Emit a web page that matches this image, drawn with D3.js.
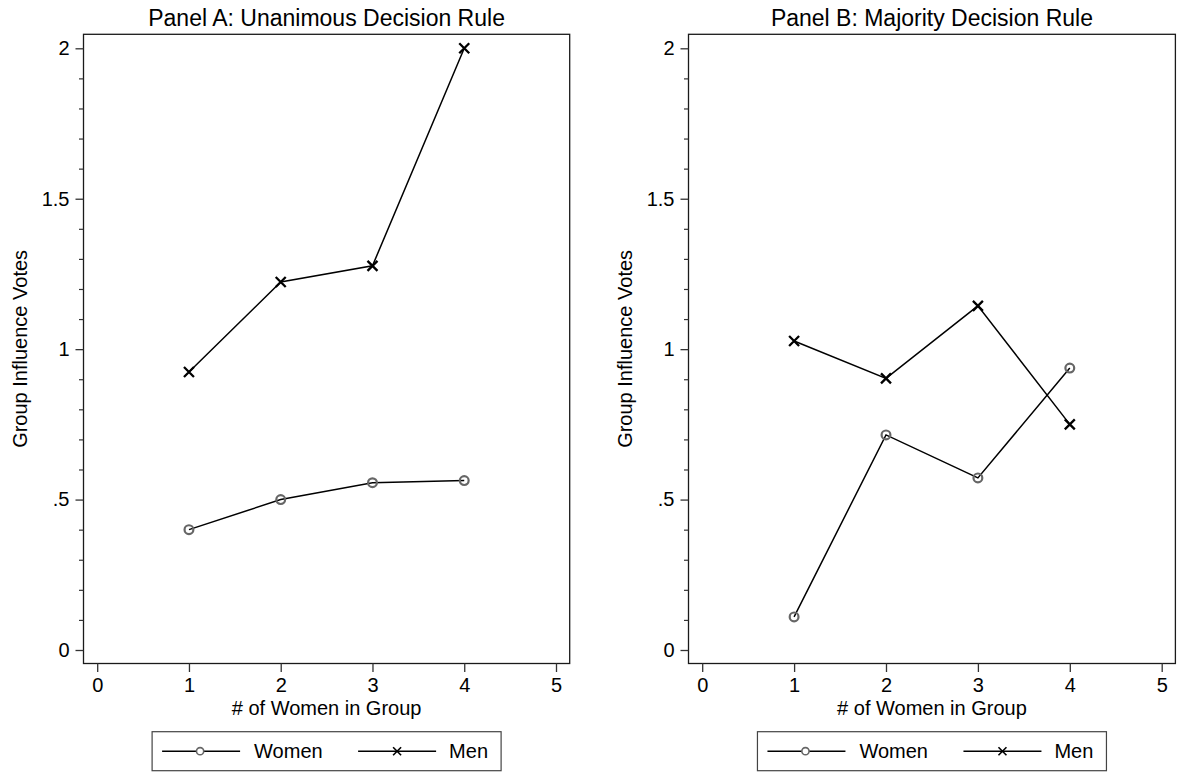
<!DOCTYPE html>
<html>
<head>
<meta charset="utf-8">
<script src="https://cdn.jsdelivr.net/npm/d3@7"></script>
<style>
  html, body { margin: 0; padding: 0; background: #fff; }
  svg { display: block; }
  text { font-family: "Liberation Sans", Arial, Helvetica, sans-serif; fill: #000; }
</style>
</head>
<body>
<svg id="chart" width="1177" height="774"></svg>
<script>
// ---- data ----
const categories = [1, 2, 3, 4];
const panelTitles = ["Panel A: Unanimous Decision Rule", "Panel B: Majority Decision Rule"];
const panelAWomen = [0.40, 0.50, 0.556, 0.563];
const panelAMen = [0.924, 1.223, 1.277, 2.0];
const panelBWomen = [0.11, 0.715, 0.572, 0.937];
const panelBMen = [1.027, 0.903, 1.144, 0.750];
const seriesNames = ["Women", "Men"];
const xTicks = [0, 1, 2, 3, 4, 5];
const yTicks = [0, 0.5, 1, 1.5, 2];
const yTickLabels = ["0", ".5", "1", "1.5", "2"];
const yMinorTicks = [0.1, 0.2, 0.3, 0.4, 0.6, 0.7, 0.8, 0.9, 1.1, 1.2, 1.3, 1.4, 1.6, 1.7, 1.8, 1.9];
const xTitle = "# of Women in Group";
const yTitle = "Group Influence Votes";

const svg = d3.select("#chart");
svg.append("rect").attr("width", 1177).attr("height", 774).attr("fill", "#fff");

const panels = [
  { title: panelTitles[0], women: panelAWomen, men: panelAMen, x0: 97.2, x5: 556.0 },
  { title: panelTitles[1], women: panelBWomen, men: panelBMen, x0: 702.2, x5: 1161.7 }
];

const CIRCLE_COLOR = "#666";

function xMarker(g, cx, cy, h, sw) {
  g.append("path")
    .attr("d", `M${cx - h},${cy - h}L${cx + h},${cy + h}M${cx - h},${cy + h}L${cx + h},${cy - h}`)
    .attr("stroke", "#000").attr("stroke-width", sw).attr("fill", "none");
}

panels.forEach(p => {
  const x = d3.scaleLinear().domain([0, 5]).range([p.x0, p.x5]);
  const y = d3.scaleLinear().domain([0, 2]).range([650, 48.3]);
  const left = x(0) - 13.7, right = x(5) + 13.7;
  const top = y(2) - 14, bottom = y(0) + 13.5;
  const g = svg.append("g");

  // frame
  g.append("rect")
    .attr("x", left).attr("y", top)
    .attr("width", right - left).attr("height", bottom - top)
    .attr("fill", "#fff").attr("stroke", "#1a1a1a").attr("stroke-width", 1.3);

  // y axis major
  const yAxis = d3.axisLeft(y).tickValues(yTicks)
    .tickFormat((d, i) => yTickLabels[i]).tickSize(8).tickPadding(6);
  const ya = g.append("g").attr("transform", `translate(${left},0)`).call(yAxis);
  ya.select(".domain").remove();
  ya.selectAll(".tick line").attr("stroke", "#333").attr("stroke-width", 1.3);
  ya.selectAll(".tick text").attr("font-size", 20).attr("font-family", "Liberation Sans, Arial, sans-serif").attr("fill", "#000");

  // y axis minor
  const yMinor = d3.axisLeft(y).tickValues(yMinorTicks).tickFormat("").tickSize(4.5);
  const ym = g.append("g").attr("transform", `translate(${left},0)`).call(yMinor);
  ym.select(".domain").remove();
  ym.selectAll(".tick line").attr("stroke", "#333").attr("stroke-width", 1.2);

  // x axis
  const xAxis = d3.axisBottom(x).tickValues(xTicks).tickFormat(d3.format("d")).tickSize(8.5).tickPadding(6);
  const xa = g.append("g").attr("transform", `translate(0,${bottom})`).call(xAxis);
  xa.select(".domain").remove();
  xa.selectAll(".tick line").attr("stroke", "#333").attr("stroke-width", 1.3);
  xa.selectAll(".tick text").attr("font-size", 20).attr("font-family", "Liberation Sans, Arial, sans-serif").attr("fill", "#000");

  const cx = (left + right) / 2;
  // title
  g.append("text").attr("x", cx).attr("y", 26).attr("text-anchor", "middle")
    .attr("font-size", 23).text(p.title);
  // x title
  g.append("text").attr("x", cx).attr("y", 715).attr("text-anchor", "middle")
    .attr("font-size", 20).text(xTitle);
  // y title
  g.append("text").attr("transform", `translate(${left - 57},${(top + bottom) / 2}) rotate(-90)`)
    .attr("text-anchor", "middle").attr("font-size", 20).text(yTitle);

  // lines
  const line = d3.line().x((d, i) => x(categories[i])).y(d => y(d));
  g.append("path").datum(p.women).attr("d", line)
    .attr("fill", "none").attr("stroke", "#000").attr("stroke-width", 1.5);
  g.append("path").datum(p.men).attr("d", line)
    .attr("fill", "none").attr("stroke", "#000").attr("stroke-width", 1.5);

  // markers
  g.selectAll(".wm").data(p.women).enter().append("circle")
    .attr("cx", (d, i) => x(categories[i])).attr("cy", d => y(d)).attr("r", 4.4)
    .attr("fill", "none").attr("stroke", CIRCLE_COLOR).attr("stroke-width", 2.2);
  p.men.forEach((d, i) => xMarker(g, x(categories[i]), y(d), 5, 2.3));

  // legend
  const lw = 349, lh = 39;
  const lx = cx - lw / 2, ly = 731.7;
  const lg = g.append("g").attr("transform", `translate(${lx},${ly})`);
  lg.append("rect").attr("width", lw).attr("height", lh)
    .attr("fill", "#fff").attr("stroke", "#444").attr("stroke-width", 1.2);
  const my = lh / 2;
  lg.append("line").attr("x1", 10).attr("x2", 88).attr("y1", my).attr("y2", my)
    .attr("stroke", "#000").attr("stroke-width", 1.4);
  lg.append("circle").attr("cx", 48).attr("cy", my).attr("r", 3.6)
    .attr("fill", "#fff").attr("stroke", CIRCLE_COLOR).attr("stroke-width", 1.6);
  lg.append("text").attr("x", 102).attr("y", my + 7).attr("font-size", 20).text(seriesNames[0]);
  lg.append("line").attr("x1", 206).attr("x2", 284).attr("y1", my).attr("y2", my)
    .attr("stroke", "#000").attr("stroke-width", 1.4);
  xMarker(lg, 245, my, 4, 1.6);
  lg.append("text").attr("x", 297).attr("y", my + 7).attr("font-size", 20).text(seriesNames[1]);
});
</script>
</body>
</html>
